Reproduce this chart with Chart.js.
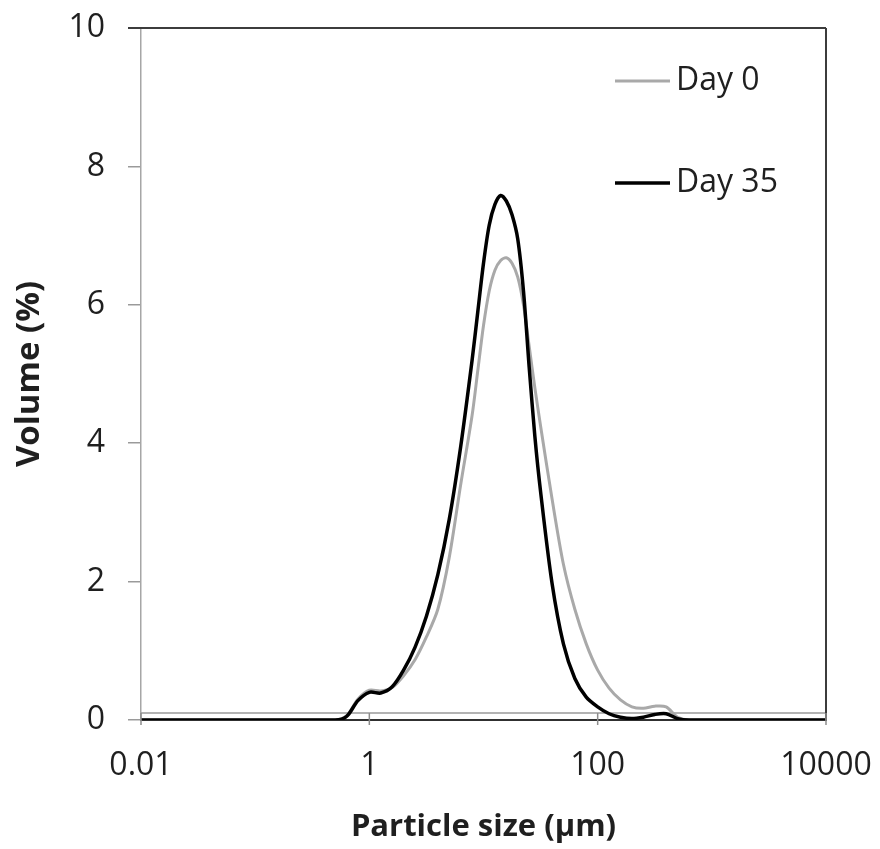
<!DOCTYPE html>
<html>
<head>
<meta charset="utf-8">
<title>Particle size distribution</title>
<script src="https://cdn.jsdelivr.net/npm/chart.js@4.4.1/dist/chart.umd.min.js"></script>
<style>
  html, body { margin: 0; padding: 0; background: #fff; }
  #wrap { width: 880px; height: 849px; }
</style>
</head>
<body>
<div id="wrap"><canvas id="psd"></canvas></div>
<script>
// particle sizes (µm) shared by both measurements
const sizes = [0.01, 0.501, 0.631, 0.794, 1, 1.259, 1.585, 1.995, 2.512, 3.162, 3.981,
  5.012, 6.31, 7.943, 8.913, 10, 11.22, 12.59, 14.13, 15.85, 17.78, 19.95, 22.39,
  25.12, 28.18, 31.62, 39.81, 50.12, 63.1, 79.43, 100, 125.9, 158.5, 199.5, 251.2,
  316.2, 398.1, 501.2, 631, 10000];

// volume (%) per size class
const day0 = [0, 0, 0.06, 0.3, 0.43, 0.42, 0.47, 0.64, 0.87, 1.2, 1.6,
  2.35, 3.4, 4.4, 5.05, 5.7, 6.2, 6.5, 6.64, 6.68, 6.6, 6.4, 6.0,
  5.4, 4.8, 4.25, 3.2, 2.25, 1.6, 1.1, 0.72, 0.46, 0.29, 0.19, 0.17,
  0.2, 0.19, 0.04, 0, 0];
const day35 = [0, 0, 0.05, 0.28, 0.4, 0.39, 0.48, 0.72, 1.05, 1.5, 2.1,
  2.9, 3.95, 5.2, 5.9, 6.6, 7.15, 7.45, 7.58, 7.5, 7.3, 6.95, 6.2,
  5.1, 4.1, 3.3, 1.98, 1.1, 0.6, 0.33, 0.19, 0.09, 0.04, 0.02, 0.04,
  0.08, 0.09, 0.02, 0, 0];

const baselineLevel = 0.1;
const xTicks = [0.01, 1, 100, 10000];
const yTicks = [0, 2, 4, 6, 8, 10];

const FONT = "'Open Sans', 'DejaVu Sans', sans-serif";
const TEXT = '#1f1f1f';

const toPoints = (vals) => vals.map((v, i) => ({ x: sizes[i], y: v }));

// plot frame: dark top/right edges, plus x tick marks crossing the axis
const framePlugin = {
  id: 'frame',
  afterDatasetsDraw(chart) {
    const { ctx, chartArea: a, scales } = chart;
    ctx.save();
    ctx.lineCap = 'butt';
    ctx.strokeStyle = '#3c3c3c';
    ctx.lineWidth = 2;
    ctx.beginPath();
    ctx.moveTo(a.left - 13, a.top); ctx.lineTo(a.right, a.top);
    ctx.moveTo(a.right, a.top); ctx.lineTo(a.right, a.bottom);
    ctx.stroke();
    ctx.strokeStyle = '#8c8c8c';
    ctx.lineWidth = 1.5;
    const yIn = scales.y.getPixelForValue(baselineLevel);
    xTicks.forEach(v => {
      const px = scales.x.getPixelForValue(v);
      ctx.beginPath();
      ctx.moveTo(px, yIn);
      ctx.lineTo(px, a.bottom + 5);
      ctx.stroke();
    });
    ctx.restore();
  }
};

// legend drawn inside the plot, upper right
const legendPlugin = {
  id: 'insideLegend',
  afterDraw(chart) {
    const { ctx, chartArea: a } = chart;
    ctx.save();
    ctx.font = '32px ' + FONT;
    ctx.textBaseline = 'middle';
    ctx.fillStyle = TEXT;
    chart.data.datasets.filter(d => d.label).forEach((d, i) => {
      const y = a.top + 53 + i * 102;
      const x0 = a.right - 211;
      ctx.strokeStyle = d.borderColor;
      ctx.lineWidth = d.borderWidth;
      ctx.beginPath();
      ctx.moveTo(x0, y);
      ctx.lineTo(x0 + 55, y);
      ctx.stroke();
      ctx.fillText(d.label, x0 + 61, y);
    });
    ctx.restore();
  }
};

new Chart(document.getElementById('psd'), {
  type: 'scatter',
  data: {
    datasets: [
      {
        label: 'Day 0',
        data: toPoints(day0),
        showLine: true,
        borderColor: '#a9a9a9',
        borderWidth: 3,
        pointRadius: 0,
        tension: 0.3,
        order: 1,
      },
      {
        label: 'Day 35',
        data: toPoints(day35),
        showLine: true,
        borderColor: '#000000',
        borderWidth: 3.5,
        pointRadius: 0,
        tension: 0.3,
        order: 0,
      },
      {
        label: '',
        data: [{ x: xTicks[0], y: baselineLevel }, { x: xTicks[xTicks.length - 1], y: baselineLevel }],
        showLine: true,
        borderColor: '#9a9a9a',
        borderWidth: 1.5,
        pointRadius: 0,
        order: 2,
      },
    ],
  },
  options: {
    responsive: true,
    maintainAspectRatio: false,
    animation: false,
    layout: { padding: { top: 28, right: 54, left: 0, bottom: 0 } },
    plugins: {
      legend: { display: false },
      tooltip: { enabled: false },
    },
    scales: {
      x: {
        type: 'logarithmic',
        min: 0.01,
        max: 10000,
        afterBuildTicks: (s) => { s.ticks = xTicks.map(v => ({ value: v })); },
        afterFit: (s) => { s.height = 129; s.paddingLeft = 0; s.paddingRight = 0; },
        grid: { display: true, drawOnChartArea: false, drawTicks: false },
        border: { display: true, color: '#303030', width: 2 },
        ticks: {
          padding: 27,
          maxRotation: 0,
          autoSkip: false,
          color: TEXT,
          font: { family: FONT, size: 32 },
          callback: (v) => String(v),
        },
        title: {
          display: true,
          text: 'Particle size (µm)',
          color: TEXT,
          font: { family: FONT, size: 31, weight: 'bold' },
          padding: { top: 0, bottom: 3 },
        },
      },
      y: {
        min: 0,
        max: 10,
        afterBuildTicks: (s) => { s.ticks = yTicks.map(v => ({ value: v })); },
        afterFit: (s) => { s.width = 141; s.paddingTop = 0; s.paddingBottom = 0; },
        grid: { display: true, drawOnChartArea: false, tickLength: 13, color: '#9a9a9a', lineWidth: 1.5 },
        border: { display: true, color: '#a6a6a6', width: 1.5 },
        ticks: {
          padding: 23,
          color: TEXT,
          font: { family: FONT, size: 32 },
        },
        title: {
          display: true,
          text: 'Volume (%)',
          color: TEXT,
          font: { family: FONT, size: 33, weight: 'bold' },
          padding: { top: 10, bottom: 0 },
        },
      },
    },
  },
  plugins: [framePlugin, legendPlugin],
});
</script>
</body>
</html>
